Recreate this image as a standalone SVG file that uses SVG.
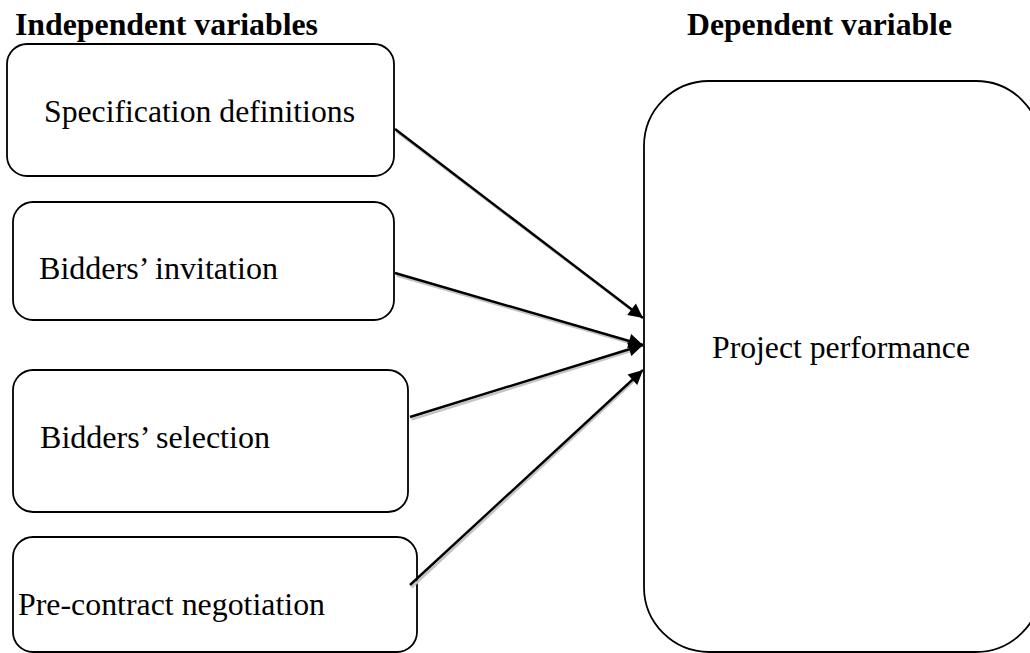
<svg xmlns="http://www.w3.org/2000/svg" width="1030" height="653" viewBox="0 0 1030 653">
<defs>
<style>
.box{fill:#fff;stroke:#000;stroke-width:1.8}
.t{font-family:"Liberation Serif","Times New Roman",serif;font-size:31px;fill:#000}
.h{font-family:"Liberation Serif","Times New Roman",serif;font-size:31px;font-weight:bold;fill:#000}
.ln{stroke:#000;stroke-width:2.4;fill:none}
.sh{stroke:#c4c4c4;stroke-width:2.4;fill:none}
</style>
<marker id="ah" viewBox="0 0 10 10" refX="10" refY="5" markerWidth="7.5" markerHeight="6" orient="auto" markerUnits="strokeWidth">
<path d="M0,0 L10,5 L0,10 z" fill="#000"/>
</marker>
</defs>
<rect width="1030" height="653" fill="#fff"/>
<text class="h" x="15" y="35" textLength="303" lengthAdjust="spacingAndGlyphs">Independent variables</text>
<text class="h" x="687" y="35" textLength="265" lengthAdjust="spacingAndGlyphs">Dependent variable</text>
<g id="node-spec">
<rect class="box" x="7" y="44" width="387" height="132" rx="20" ry="20"/>
<text class="t" x="44" y="122" textLength="311" lengthAdjust="spacingAndGlyphs">Specification definitions</text>
</g>
<g id="node-invitation">
<rect class="box" x="13" y="202" width="381" height="118" rx="20" ry="20"/>
<text class="t" x="39" y="279" textLength="239" lengthAdjust="spacingAndGlyphs">Bidders’ invitation</text>
</g>
<g id="node-selection">
<rect class="box" x="13" y="370" width="395" height="142" rx="20" ry="20"/>
<text class="t" x="40" y="448" textLength="230" lengthAdjust="spacingAndGlyphs">Bidders’ selection</text>
</g>
<g id="node-negotiation">
<rect class="box" x="13" y="537" width="404" height="115" rx="20" ry="20"/>
<text class="t" x="18" y="615" textLength="307" lengthAdjust="spacingAndGlyphs">Pre-contract negotiation</text>
</g>
<g id="node-performance">
<rect class="box" x="644" y="81" width="397" height="571" rx="65" ry="65"/>
<text class="t" x="712" y="358" textLength="258" lengthAdjust="spacingAndGlyphs">Project performance</text>
</g>
<g id="connectors">
<g transform="translate(1.5,2.5)">
<line class="sh" x1="395" y1="129" x2="636" y2="312"/>
<line class="sh" x1="395" y1="273" x2="634" y2="342"/>
<line class="sh" x1="410" y1="417" x2="634" y2="347"/>
<line class="sh" x1="410" y1="585" x2="635" y2="376"/>
</g>
<line class="ln" x1="395" y1="129" x2="643" y2="318" marker-end="url(#ah)"/>
<line class="ln" x1="395" y1="273" x2="643" y2="345" marker-end="url(#ah)"/>
<line class="ln" x1="410" y1="417" x2="643" y2="345" marker-end="url(#ah)"/>
<line class="ln" x1="410" y1="585" x2="643" y2="370" marker-end="url(#ah)"/>
</g>
</svg>
